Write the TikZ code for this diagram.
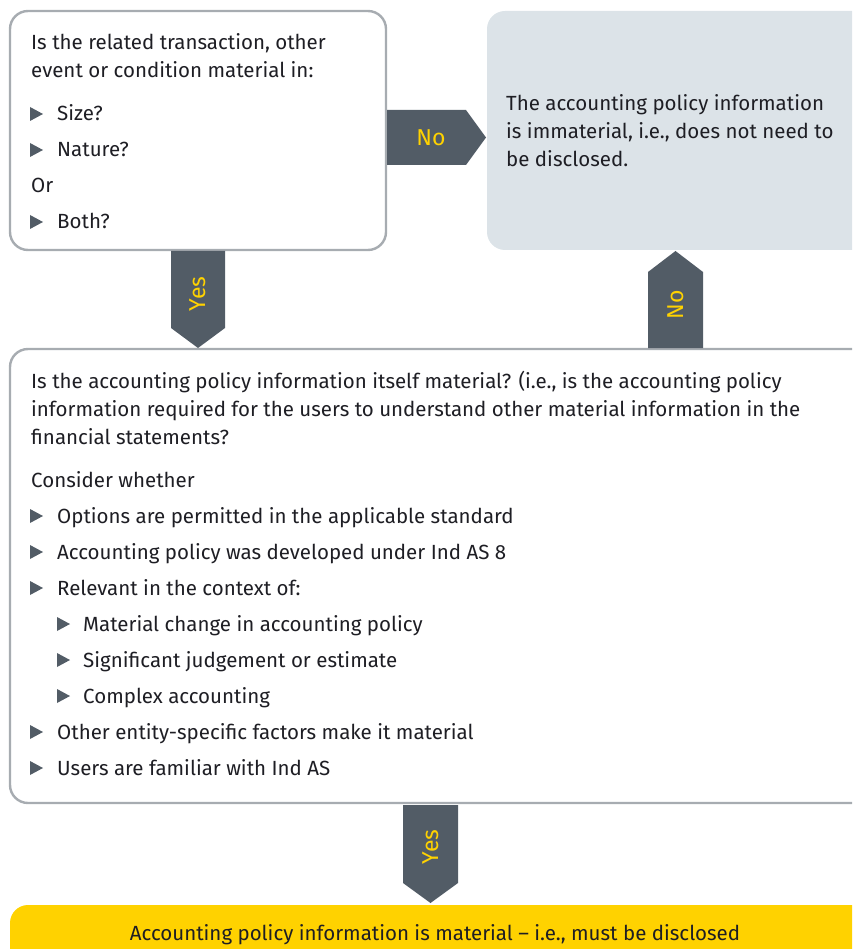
\documentclass[tikz,border=0pt]{standalone}
\usepackage{fontspec}
\setmainfont{Fira Sans}
\definecolor{txt}{HTML}{1E1E24}
\definecolor{edge}{HTML}{A7ACB1}
\definecolor{panel}{HTML}{DCE3E8}
\definecolor{slate}{HTML}{525C66}
\definecolor{eyyellow}{HTML}{FFD200}
\tikzset{
  box/.style={draw=edge, line width=2.4pt, fill=white, rounded corners=18pt},
  line/.style={anchor=base west, inner sep=0pt, text=txt, font=\fontsize{20.5}{23}\selectfont},
  flag/.style={fill=slate},
  flagtxt/.style={inner sep=0pt, text=eyyellow, font=\fontsize{23}{26}\selectfont},
}
\newcommand{\bul}[2]{\fill[slate] (#1,#2-14) -- (#1+13,#2-7) -- (#1,#2) -- cycle;}
\begin{document}
\begin{tikzpicture}[x=1pt,y=-1pt]
\useasboundingbox (0,0) rectangle (852,949);
\clip (0,0) rectangle (852,949);
% boxes
\draw[box] (10,11) rectangle (386,250);
\fill[panel, rounded corners=18pt] (487,11) rectangle (880,250);
\draw[box] (10,349) rectangle (880,803);
\fill[eyyellow, rounded corners=18pt] (10,905) rectangle (880,980);
% arrows
\fill[flag] (387,110) -- (466,110) -- (486,137.5) -- (466,165) -- (387,165) -- cycle;
\node[flagtxt] (no1) at (431,137.5) {No};
\fill[flag] (171,251) -- (225,251) -- (225,328) -- (198,348) -- (171,328) -- cycle;
\node[flagtxt, rotate=90] (yes1) at (198,294) {Yes};
\fill[flag] (648,348) -- (703,348) -- (703,272) -- (675.5,251) -- (648,272) -- cycle;
\node[flagtxt, rotate=90] (no2) at (675.5,305) {No};
\fill[flag] (403,805) -- (458,805) -- (458,883) -- (430.5,903) -- (403,883) -- cycle;
\node[flagtxt, rotate=90] (yes2) at (430.5,847) {Yes};
% box 1 text
\node[line] (a1) at (31,50) {Is the related transaction, other};
\node[line] (a2) at (31,78) {event or condition material in:};
\bul{30}{121}\node[line] (a3) at (57,121) {Size?};
\bul{30}{157}\node[line] (a4) at (57,157) {Nature?};
\node[line] (a5) at (31,193) {Or};
\bul{30}{229}\node[line] (a6) at (57,229) {Both?};
% box 2 text
\node[line] (b1) at (506,111) {The accounting policy information};
\node[line] (b2) at (506,139) {is immaterial, i.e., does not need to};
\node[line] (b3) at (506,167) {be disclosed.};
% box 3 text
\node[line] (c1) at (31,388) {Is the accounting policy information itself material? (i.e., is the accounting policy};
\node[line] (c2) at (31,416) {information required for the users to understand other material information in the};
\node[line] (c3) at (31,444) {financial statements?};
\node[line] (c4) at (31,487) {Consider whether};
\bul{30}{523}\node[line] (c5) at (57,523) {Options are permitted in the applicable standard};
\bul{30}{559}\node[line] (c6) at (57,559) {Accounting policy was developed under Ind AS 8};
\bul{30}{595}\node[line] (c7) at (57,595) {Relevant in the context of:};
\bul{57}{631}\node[line] (c8) at (83,631) {Material change in accounting policy};
\bul{57}{667}\node[line] (c9) at (83,667) {Significant judgement or estimate};
\bul{57}{703}\node[line] (c10) at (83,703) {Complex accounting};
\bul{30}{739}\node[line] (c11) at (57,739) {Other entity-specific factors make it material};
\bul{30}{775}\node[line] (c12) at (57,775) {Users are familiar with Ind AS};
% bottom
\node[line, anchor=base] (d1) at (435,940) {Accounting policy information is material – i.e., must be disclosed};
\end{tikzpicture}
\end{document}
